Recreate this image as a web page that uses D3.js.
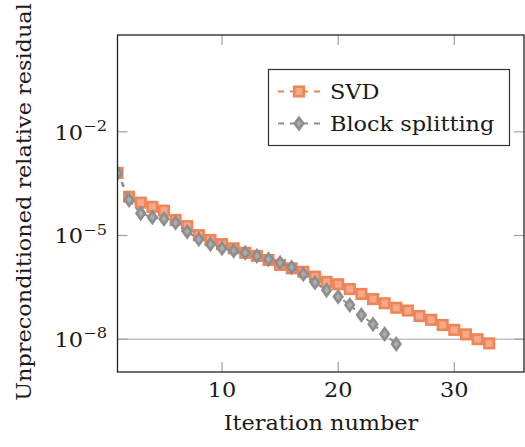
<!DOCTYPE html>
<meta charset="UTF-8">
<style>
	body { margin: 0; background: #fff; }
	text { font-family: "DejaVu Serif", serif; fill: #1a1a1a; }
</style>
<body>
<script src="https://d3js.org/d3.v7.min.js"></script>
<script>
	// iteration numbers and residuals (log10 values)
	const svdIter = d3.range(1, 34);
	const svdLog = [-3.19, -3.88, -4.05, -4.17, -4.28, -4.55, -4.73, -4.99, -5.13, -5.25,
		-5.37, -5.50, -5.59, -5.71, -5.85, -5.95, -6.05, -6.19, -6.34, -6.41,
		-6.55, -6.69, -6.84, -6.96, -7.09, -7.17, -7.33, -7.44, -7.59, -7.73,
		-7.86, -8.00, -8.12];
	const blockIter = d3.range(1, 26);
	const blockLog = [-3.20, -3.97, -4.36, -4.47, -4.52, -4.63, -4.89, -5.11, -5.25, -5.37,
		-5.44, -5.50, -5.59, -5.69, -5.79, -5.92, -6.12, -6.36, -6.58, -6.77,
		-7.01, -7.30, -7.57, -7.85, -8.14];
	const xTicks = [10, 20, 30];
	const yTicks = [1e-2, 1e-5, 1e-8];
	const yTickExp = ["−2", "−5", "−8"];
	const seriesNames = ["SVD", "Block splitting"];

	const svdData = svdIter.map((x, i) => ({ x: x, y: Math.pow(10, svdLog[i]) }));
	const blockData = blockIter.map((x, i) => ({ x: x, y: Math.pow(10, blockLog[i]) }));

	const W = 525, H = 447;
	const margin = { top: 35, right: 1, bottom: 75, left: 117.5 };
	const sx = 1.12; // the reference font is wider than DejaVu at the same height

	const svg = d3.select("body").append("svg")
		.attr("width", W)
		.attr("height", H);

	const x = d3.scaleLinear().domain([1, 36]).range([margin.left, W - margin.right]);
	const y = d3.scaleLog().domain([Math.pow(10, -8.94), Math.pow(10, 0.8)])
		.range([H - margin.bottom - 0.3, margin.top]);

	// text placed at (tx,ty), stretched along its own direction
	const label = (tx, ty, rot, anchor, size) => svg.append("g")
		.attr("transform", `translate(${tx},${ty}) rotate(${rot}) scale(${sx},1)`)
		.append("text").attr("text-anchor", anchor).style("font-size", size + "px");

	svg.append("clipPath").attr("id", "plotclip")
		.append("rect")
		.attr("x", margin.left).attr("y", margin.top)
		.attr("width", W - margin.right - margin.left)
		.attr("height", H - margin.bottom - margin.top);

	// horizontal line at 1e-8
	svg.append("line")
		.attr("x1", margin.left).attr("x2", W - margin.right)
		.attr("y1", y(1e-8)).attr("y2", y(1e-8))
		.attr("stroke", "#c4c4c4").attr("stroke-width", 1.5);

	// ticks, drawn inside the frame
	const tickLen = 10;
	yTicks.forEach(t => {
		svg.append("line").attr("x1", margin.left).attr("x2", margin.left + tickLen)
			.attr("y1", y(t)).attr("y2", y(t)).attr("stroke", "#a0a0a0").attr("stroke-width", 1.2);
		svg.append("line").attr("x1", W - margin.right - tickLen).attr("x2", W - margin.right)
			.attr("y1", y(t)).attr("y2", y(t)).attr("stroke", "#a0a0a0").attr("stroke-width", 1.2);
	});
	xTicks.forEach(t => {
		svg.append("line").attr("x1", x(t)).attr("x2", x(t))
			.attr("y1", H - margin.bottom).attr("y2", H - margin.bottom - tickLen)
			.attr("stroke", "#a0a0a0").attr("stroke-width", 1.2);
		svg.append("line").attr("x1", x(t)).attr("x2", x(t))
			.attr("y1", margin.top).attr("y2", margin.top + tickLen)
			.attr("stroke", "#a0a0a0").attr("stroke-width", 1.2);
	});

	// tick labels
	xTicks.forEach(t => {
		label(x(t), 397, 0, "middle", 20).text(t);
	});
	yTicks.forEach((t, i) => {
		const lab = label(107, y(t) + 8, 0, "end", 20);
		lab.append("tspan").text("10");
		lab.append("tspan").attr("dy", -9).style("font-size", "14.5px").text(yTickExp[i]);
	});

	// axis labels
	label(321, 430, 0, "middle", 20).text("Iteration number");
	label(31, 202, -90, "middle", 20).text("Unpreconditioned relative residual");

	const line = d3.line().x(d => x(d.x)).y(d => y(d.y));
	const plot = svg.append("g").attr("clip-path", "url(#plotclip)");

	const svdColor = "#ef8556", svdFill = "#f5a98a";
	const grayColor = "#8e8e8e", grayFill = "#ababab";

	const sq = 9.5;
	const diamond = (cx, cy) => `M${cx},${cy - 5.8}L${cx + 4.2},${cy}L${cx},${cy + 5.8}L${cx - 4.2},${cy}Z`;

	// SVD
	plot.append("path").datum(svdData).attr("d", line)
		.attr("fill", "none").attr("stroke", svdColor).attr("stroke-width", 2)
		.attr("stroke-dasharray", "5,5");
	plot.selectAll("rect.svd").data(svdData).join("rect").attr("class", "svd")
		.attr("x", d => x(d.x) - sq / 2).attr("y", d => y(d.y) - sq / 2)
		.attr("width", sq).attr("height", sq)
		.attr("fill", svdFill).attr("stroke", svdColor).attr("stroke-width", 2.6);

	// Block splitting
	plot.append("path").datum(blockData).attr("d", line)
		.attr("fill", "none").attr("stroke", grayColor).attr("stroke-width", 2)
		.attr("stroke-dasharray", "5,5");
	plot.selectAll("path.blk").data(blockData).join("path").attr("class", "blk")
		.attr("d", d => diamond(x(d.x), y(d.y)))
		.attr("fill", grayFill).attr("stroke", grayColor).attr("stroke-width", 2.6);

	// frame
	svg.append("rect")
		.attr("x", margin.left).attr("y", margin.top)
		.attr("width", W - margin.right - margin.left)
		.attr("height", H - margin.bottom - margin.top)
		.attr("fill", "none").attr("stroke", "#222").attr("stroke-width", 1.3);

	// legend
	const lg = svg.append("g");
	lg.append("rect").attr("x", 268.5).attr("y", 69.5).attr("width", 241).attr("height", 76)
		.attr("fill", "#fff").attr("stroke", "#333").attr("stroke-width", 1.2);
	const legendY = [91.5, 123.5];
	const colors = [svdColor, grayColor];
	seriesNames.forEach((name, i) => {
		const ly = legendY[i];
		lg.append("line").attr("x1", 278).attr("x2", 320).attr("y1", ly).attr("y2", ly)
			.attr("stroke", colors[i]).attr("stroke-width", 2).attr("stroke-dasharray", "6,6");
		if (i === 0) {
			lg.append("rect").attr("x", 299 - sq / 2).attr("y", ly - sq / 2)
				.attr("width", sq).attr("height", sq)
				.attr("fill", svdFill).attr("stroke", svdColor).attr("stroke-width", 2.6);
		} else {
			lg.append("path").attr("d", diamond(299, ly))
				.attr("fill", grayFill).attr("stroke", grayColor).attr("stroke-width", 2.6);
		}
		label(330, ly + 7.5, 0, "start", 20).text(name);
	});
</script>
</body>
